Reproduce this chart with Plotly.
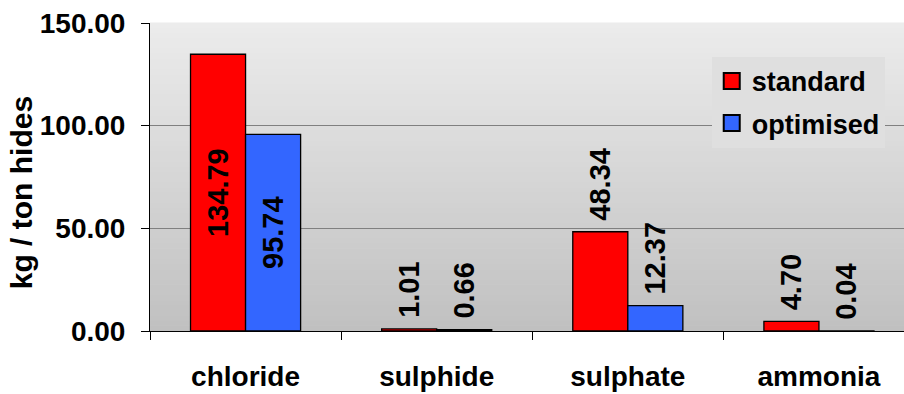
import plotly.graph_objects as go

# Emission loads per ton of hides, standard vs optimised process
categories = ["chloride", "sulphide", "sulphate", "ammonia"]
standard = [134.79, 1.01, 48.34, 4.70]
optimised = [95.74, 0.66, 12.37, 0.04]
y_ticks = [0, 50, 100, 150]
y_tick_labels = ["0.00", "50.00", "100.00", "150.00"]

FONT = "Liberation Sans"
RED = "#ff0000"
BLUE = "#3366ff"

# labels sit inside the tall chloride bars, above all the others
positions = ["inside", "outside", "outside", "outside"]


def label(v, pos):
    # a leading space keeps outside labels clear of the bar top
    return f"{v:.2f}" if pos == "inside" else f" {v:.2f}"


fig = go.Figure()
for name, vals, color in [("standard", standard, RED), ("optimised", optimised, BLUE)]:
    fig.add_trace(go.Bar(
        x=categories, y=vals, name=name, showlegend=False,
        marker=dict(color=color, line=dict(color="black", width=1.3)),
        text=[label(v, p) for v, p in zip(vals, positions)],
        textposition=positions,
        textangle=-90, insidetextanchor="middle", cliponaxis=False,
        textfont=dict(family=FONT, size=29, color="black", weight="bold"),
    ))
    # legend entry with a larger square swatch
    fig.add_trace(go.Scatter(
        x=[None], y=[None], mode="markers", name=name, legendgroup=name,
        marker=dict(symbol="square", size=16, color=color,
                    line=dict(color="black", width=2)),
    ))

# vertical grey gradient behind the plot area
n = 60
top_rgb, bot_rgb = (236, 236, 236), (192, 192, 192)
for i in range(n):
    t = (i + 0.5) / n
    c = tuple(round(bot_rgb[k] + (top_rgb[k] - bot_rgb[k]) * t) for k in range(3))
    fig.add_shape(type="rect", xref="x domain", yref="y domain",
                  x0=0, x1=1, y0=i / n, y1=(i + 1) / n + 0.002,
                  fillcolor=f"rgb{c}", line_width=0, layer="below")

# y-axis title placed a little below the axis midpoint
fig.add_annotation(text="kg / ton hides", textangle=-90,
                   xref="paper", yref="paper", x=-0.17, y=0.45,
                   xanchor="center", yanchor="middle", showarrow=False,
                   font=dict(family=FONT, size=30, weight="bold", color="black"))

fig.update_layout(
    width=904, height=394,
    margin=dict(l=150, r=0, t=23, b=63),
    paper_bgcolor="white", plot_bgcolor="#d8d8d8",
    barmode="group", bargap=0.424, bargroupgap=0,
    uniformtext=dict(mode="show", minsize=29),
    font=dict(family=FONT, size=27, color="black", weight="bold"),
    legend=dict(x=0.745, y=0.89, xanchor="left", yanchor="top",
                bgcolor="#dfdfdf", borderwidth=0,
                traceorder="grouped", tracegroupgap=4,
                font=dict(family=FONT, size=27, weight="bold")),
    xaxis=dict(range=[-0.5, 3.445], showgrid=False, showline=True,
               linecolor="black", linewidth=1, ticks="outside",
               tickson="boundaries", ticklen=8, tickcolor="black",
               ticklabelstandoff=20,
               tickfont=dict(family=FONT, size=28, weight="bold")),
    yaxis=dict(range=[0, 150], tickvals=y_ticks, ticktext=y_tick_labels,
               showgrid=True, gridcolor="#808080", gridwidth=1,
               showline=True, linecolor="black", linewidth=1,
               ticks="outside", ticklen=8, tickcolor="black",
               ticklabelstandoff=10, zeroline=False,
               tickfont=dict(family=FONT, size=28, weight="bold")),
)

fig.write_html("out.html")
